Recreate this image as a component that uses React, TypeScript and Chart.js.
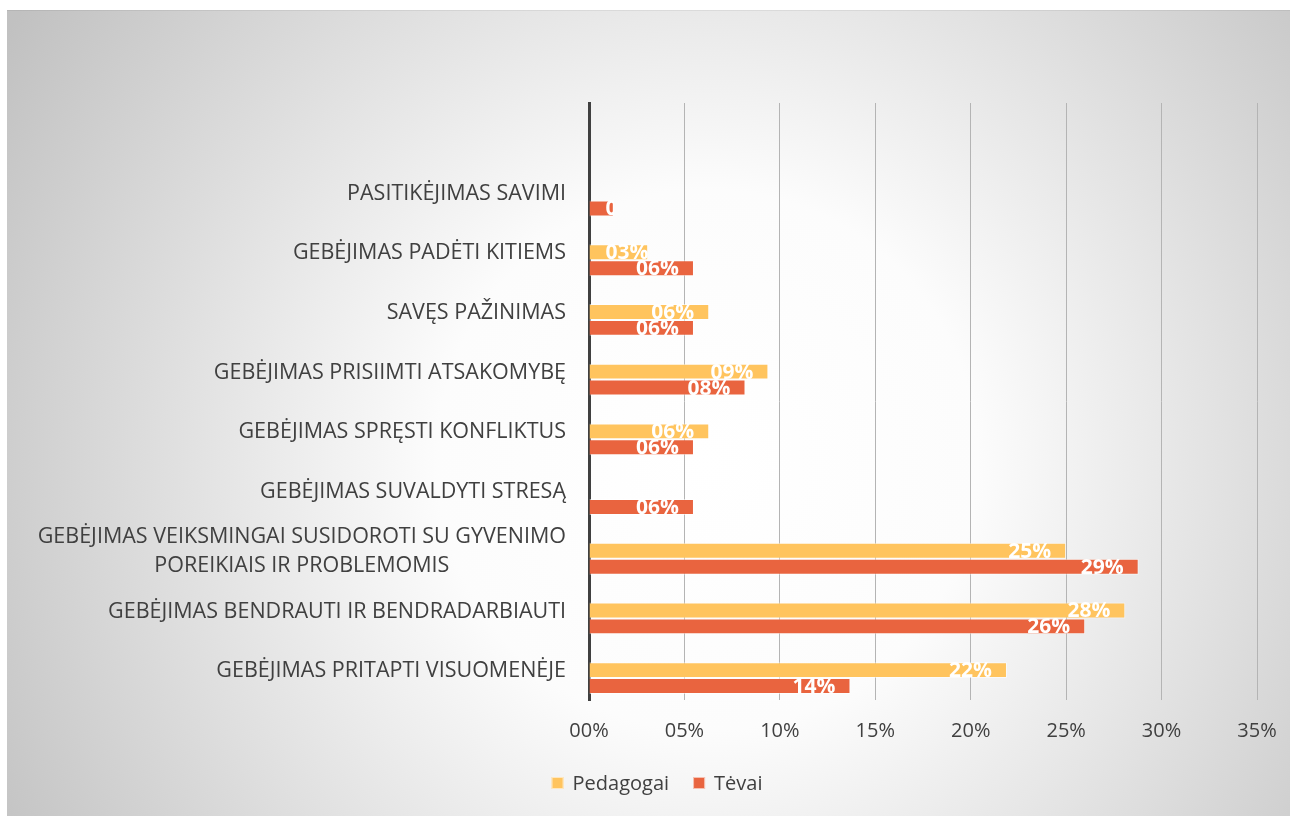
import { useEffect, useRef } from "react";
import { Chart, registerables } from "chart.js";

Chart.register(...registerables);

const categories: (string | string[])[] = [
  "",
  "PASITIKĖJIMAS SAVIMI",
  "GEBĖJIMAS PADĖTI KITIEMS",
  "SAVĘS PAŽINIMAS",
  "GEBĖJIMAS PRISIIMTI ATSAKOMYBĘ",
  "GEBĖJIMAS SPRĘSTI KONFLIKTUS",
  "GEBĖJIMAS SUVALDYTI STRESĄ",
  ["GEBĖJIMAS VEIKSMINGAI SUSIDOROTI SU GYVENIMO", "POREIKIAIS IR PROBLEMOMIS"],
  "GEBĖJIMAS BENDRAUTI IR BENDRADARBIAUTI",
  "GEBĖJIMAS PRITAPTI VISUOMENĖJE",
];

const pedagogai: (number | null)[] = [null, null, 3.1, 6.3, 9.4, 6.3, 0, 25.0, 28.1, 21.9];
const tevai: (number | null)[] = [null, 1.3, 5.5, 5.5, 8.2, 5.5, 5.5, 28.8, 26.0, 13.7];
const spacer: (number | null)[] = categories.map(() => null);

const xTickLabels = ["00%", "05%", "10%", "15%", "20%", "25%", "30%", "35%"];
const seriesNames = ["Pedagogai", "Tėvai"];
const seriesColors = ["#FFC45E", "#E9643F"];

const FONT = "'Open Sans', sans-serif";
const TEXT = "#404040";

const fmt = (v: number) => String(Math.round(v)).padStart(2, "0") + "%";

const backgroundPlugin = {
  id: "bgGradient",
  beforeDraw(chart: any) {
    const { ctx, width, height } = chart;
    ctx.save();
    const cx = 700, cy = 450;
    const g = ctx.createRadialGradient(cx, cy, 0, cx, cy, 820);
    g.addColorStop(0, "#ffffff");
    g.addColorStop(0.33, "#fcfcfc");
    g.addColorStop(1, "#c1c1c1");
    ctx.fillStyle = g;
    ctx.fillRect(0, 0, width, height);
    ctx.fillStyle = "rgba(0,0,0,0.06)";
    ctx.fillRect(0, 0, width, 1);
    ctx.restore();
  },
};

const yLabelPlugin = {
  id: "yLabels",
  afterDraw(chart: any) {
    const { ctx } = chart;
    const y = chart.scales.y;
    const rightX = chart.chartArea.left - 23;
    ctx.save();
    ctx.font = `21.5px ${FONT}`;
    ctx.fillStyle = TEXT;
    ctx.textBaseline = "middle";
    categories.forEach((lab, i) => {
      const lines = Array.isArray(lab) ? lab : [lab];
      if (!lines[0]) return;
      const cy = y.getPixelForTick(i) + 1;
      const lh = 29;
      const widths = lines.map((l) => ctx.measureText(l).width);
      const maxW = Math.max(...widths);
      const center = rightX - maxW / 2;
      lines.forEach((l, k) => {
        const ly = cy + (k - (lines.length - 1) / 2) * lh;
        ctx.textAlign = "center";
        ctx.fillText(l, center, ly);
      });
    });
    ctx.restore();
  },
};

const dataLabelPlugin = {
  id: "barLabels",
  afterDatasetsDraw(chart: any) {
    const { ctx } = chart;
    ctx.save();
    ctx.font = `bold 21px ${FONT}`;
    ctx.fillStyle = "#ffffff";
    ctx.textBaseline = "middle";
    ctx.textAlign = "left";
    [1, 2].forEach((di) => {
      const meta = chart.getDatasetMeta(di);
      const data = chart.data.datasets[di].data;
      meta.data.forEach((bar: any, i: number) => {
        const v = data[i];
        if (v === null || v === undefined) return;
        const txt = fmt(v);
        const w = ctx.measureText(txt).width;
        const left = Math.max(bar.x - 15 - w, bar.base + 16);
        ctx.save();
        ctx.beginPath();
        ctx.rect(bar.base, bar.y - 20, Math.max(0, bar.x - bar.base), 40);
        ctx.clip();
        ctx.fillText(txt, left, bar.y + 1);
        ctx.restore();
      });
    });
    ctx.restore();
  },
};

const legendPlugin = {
  id: "customLegend",
  afterDraw(chart: any) {
    const { ctx } = chart;
    ctx.save();
    ctx.font = `20px ${FONT}`;
    ctx.textBaseline = "middle";
    ctx.textAlign = "left";
    const box = 12;
    const gapBoxText = 9;
    const gapItems = 24;
    const widths = seriesNames.map((n) => ctx.measureText(n).width);
    const total = widths.reduce((a, w) => a + box + gapBoxText + w, 0) + gapItems * (seriesNames.length - 1);
    let x = 650 - total / 2;
    const cy = 773;
    seriesNames.forEach((n, i) => {
      ctx.fillStyle = seriesColors[i];
      ctx.fillRect(x, cy - box / 2, box, box);
      ctx.strokeStyle = "rgba(255,255,255,0.6)";
      ctx.lineWidth = 1;
      ctx.strokeRect(x + 0.5, cy - box / 2 + 0.5, box - 1, box - 1);
      x += box + gapBoxText;
      ctx.fillStyle = TEXT;
      ctx.fillText(n, x, cy + 1);
      x += widths[i] + gapItems;
    });
    ctx.restore();
  },
};

export default function App() {
  const ref = useRef<HTMLCanvasElement | null>(null);
  useEffect(() => {
    if (!ref.current) return;
    const chart = new Chart(ref.current, {
      type: "bar",
      data: {
        labels: categories as any,
        datasets: [
          { label: "", data: spacer, backgroundColor: "rgba(0,0,0,0)", borderWidth: 0 },
          {
            label: seriesNames[0],
            data: pedagogai,
            backgroundColor: seriesColors[0],
            borderColor: "rgba(255,255,255,0.55)",
            borderWidth: 1,
          },
          {
            label: seriesNames[1],
            data: tevai,
            backgroundColor: seriesColors[1],
            borderColor: "rgba(255,255,255,0.55)",
            borderWidth: 1,
          },
        ],
      },
      options: {
        indexAxis: "y",
        animation: false,
        responsive: false,
        maintainAspectRatio: false,
        layout: { padding: { top: 93, right: 33, left: 0, bottom: 0 } },
        datasets: { bar: { categoryPercentage: 0.8, barPercentage: 1 } },
        plugins: { legend: { display: false }, tooltip: { enabled: false } },
        scales: {
          x: {
            min: 0,
            max: 35,
            ticks: {
              stepSize: 5,
              padding: 19,
              color: TEXT,
              font: { family: FONT, size: 20 },
              callback: (_v: any, i: number) => xTickLabels[i],
            },
            grid: { color: "#b4b4b4", drawTicks: false, lineWidth: 1 },
            border: { display: false },
            afterFit: (s: any) => {
              s.height = 116;
              s.paddingLeft = 0;
              s.paddingRight = 0;
            },
          },
          y: {
            ticks: { display: false },
            grid: { display: false, drawTicks: false },
            border: { display: true, color: "#404040", width: 3 },
            afterFit: (s: any) => {
              s.width = 582;
            },
          },
        },
      },
      plugins: [backgroundPlugin, dataLabelPlugin, yLabelPlugin, legendPlugin],
    } as any);
    return () => chart.destroy();
  }, []);
  return (
    <div style={{ position: "fixed", left: 7, top: 10, width: 1283, height: 806 }}>
      <canvas ref={ref} width={1283} height={806} style={{ display: "block" }} />
    </div>
  );
}
